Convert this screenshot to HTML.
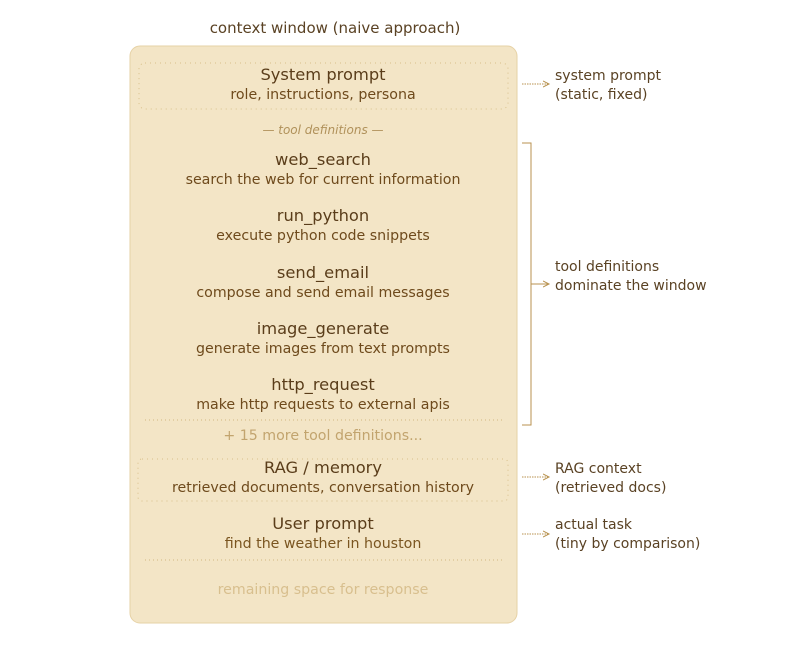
<!DOCTYPE html>
<html><head><meta charset="utf-8"><style>
html,body{margin:0;padding:0;background:#fff;}
svg{display:block;font-family:"DejaVu Sans","Liberation Sans",sans-serif;}
</style></head><body>
<svg width="800" height="659" viewBox="0 0 800 659" xmlns="http://www.w3.org/2000/svg">
<defs><marker id="a" markerWidth="8" markerHeight="8" refX="6" refY="4" orient="auto"><path d="M0,1 L6,4 L0,7" fill="none" stroke="#b8924f" stroke-width="1"/></marker></defs>
<text x="335" y="33" text-anchor="middle" font-size="15" fill="#5a4224">context window (naive approach)</text>
<rect x="130" y="46" width="387" height="577" rx="10" fill="#f3e5c6" stroke="#e6d2a6" stroke-width="1"/>
<rect x="139" y="63" width="369" height="46" rx="6" fill="none" stroke="#d8c08a" stroke-dasharray="1,4"/>
<text x="323" y="80" text-anchor="middle" font-size="16.3" fill="#5a3d1a">System prompt</text>
<text x="323" y="99" text-anchor="middle" font-size="14.2" fill="#6e4a1c">role, instructions, persona</text>
<text x="323" y="134" text-anchor="middle" font-size="12" font-style="italic" fill="#b0915a">— tool definitions —</text>
<g text-anchor="middle">
<text x="323" y="165" font-size="16.3" fill="#5a3d1a">web_search</text>
<text x="323" y="184" font-size="14.2" fill="#6e4a1c">search the web for current information</text>
<text x="323" y="221" font-size="16.3" fill="#5a3d1a">run_python</text>
<text x="323" y="240" font-size="14.2" fill="#6e4a1c">execute python code snippets</text>
<text x="323" y="278" font-size="16.3" fill="#5a3d1a">send_email</text>
<text x="323" y="297" font-size="14.2" fill="#6e4a1c">compose and send email messages</text>
<text x="323" y="334" font-size="16.3" fill="#5a3d1a">image_generate</text>
<text x="323" y="353" font-size="14.2" fill="#6e4a1c">generate images from text prompts</text>
<text x="323" y="390" font-size="16.3" fill="#5a3d1a">http_request</text>
<text x="323" y="409" font-size="14.2" fill="#6e4a1c">make http requests to external apis</text>
<text x="323" y="440" font-size="14.2" fill="#c2a46e">+ 15 more tool definitions...</text>
<text x="323" y="473" font-size="16.3" fill="#5a3d1a">RAG / memory</text>
<text x="323" y="492" font-size="14.2" fill="#6e4a1c">retrieved documents, conversation history</text>
<text x="323" y="529" font-size="16.3" fill="#5a3d1a">User prompt</text>
<text x="323" y="548" font-size="14.2" fill="#7a5520">find the weather in houston</text>
<text x="323" y="594" font-size="14.2" fill="#d8bf8e">remaining space for response</text>
</g>
<line x1="145" y1="420" x2="505" y2="420" stroke="#d2b880" stroke-dasharray="1,3"/>
<rect x="138" y="459" width="370" height="42" rx="4" fill="none" stroke="#d8c08a" stroke-dasharray="1,4"/>
<line x1="145" y1="560" x2="505" y2="560" stroke="#d2b880" stroke-dasharray="1,3"/>
<g stroke="#b8924f" fill="none">
<line x1="522" y1="84" x2="549" y2="84" stroke-dasharray="1.5,1" marker-end="url(#a)"/>
<path d="M522 143 H531 V425 H522"/>
<line x1="531" y1="284" x2="549" y2="284" marker-end="url(#a)"/>
<line x1="522" y1="477" x2="549" y2="477" stroke-dasharray="1.5,1" marker-end="url(#a)"/>
<line x1="522" y1="534" x2="549" y2="534" stroke-dasharray="1.5,1" marker-end="url(#a)"/>
</g>
<g font-size="14" fill="#5a4224">
<text x="555" y="80">system prompt</text><text x="555" y="99">(static, fixed)</text>
<text x="555" y="271">tool definitions</text><text x="555" y="290">dominate the window</text>
<text x="555" y="473">RAG context</text><text x="555" y="492">(retrieved docs)</text>
<text x="555" y="529">actual task</text><text x="555" y="548">(tiny by comparison)</text>
</g>
</svg>
</body></html>
